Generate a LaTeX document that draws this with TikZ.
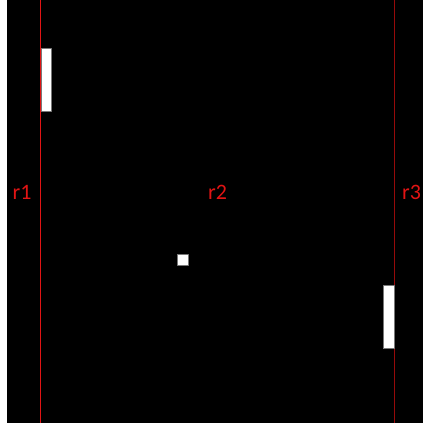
\documentclass[tikz,border=0pt]{standalone}
\usepackage{fontspec}
\setmainfont{Carlito}
\definecolor{lanered}{RGB}{225,20,20}
\definecolor{darklane}{RGB}{150,10,10}
\definecolor{padgray}{RGB}{120,120,120}
\begin{document}
\begin{tikzpicture}[x=1pt,y=-1pt,line join=round,font=\fontsize{22}{22}\selectfont]
			%========================
			\useasboundingbox (0,0) rectangle (423,423);
			\fill[white] (0,0) rectangle (423,423);
			\fill[black] (7,0) rectangle (423,423);
			\draw[lanered,line width=1pt] (40.5,0)--(40.5,423);
			\draw[darklane,line width=1pt] (394,0)--(394,423);
			\filldraw[fill=white,draw=padgray,line width=.6pt] (40.8,47.8) rectangle (51,110.8);
			\filldraw[fill=white,draw=padgray,line width=.6pt] (383.3,285.3) rectangle (394,348.7);
			\filldraw[fill=white,draw=padgray,line width=.6pt] (177.3,254.3) rectangle (188.3,265.3);
			\draw(22,192)  node[lanered]{r1};
			\draw(217.5,192)  node[lanered]{r2};
			\draw(411.5,192)  node[lanered]{r3};
			%========================
		\end{tikzpicture}
\end{document}
